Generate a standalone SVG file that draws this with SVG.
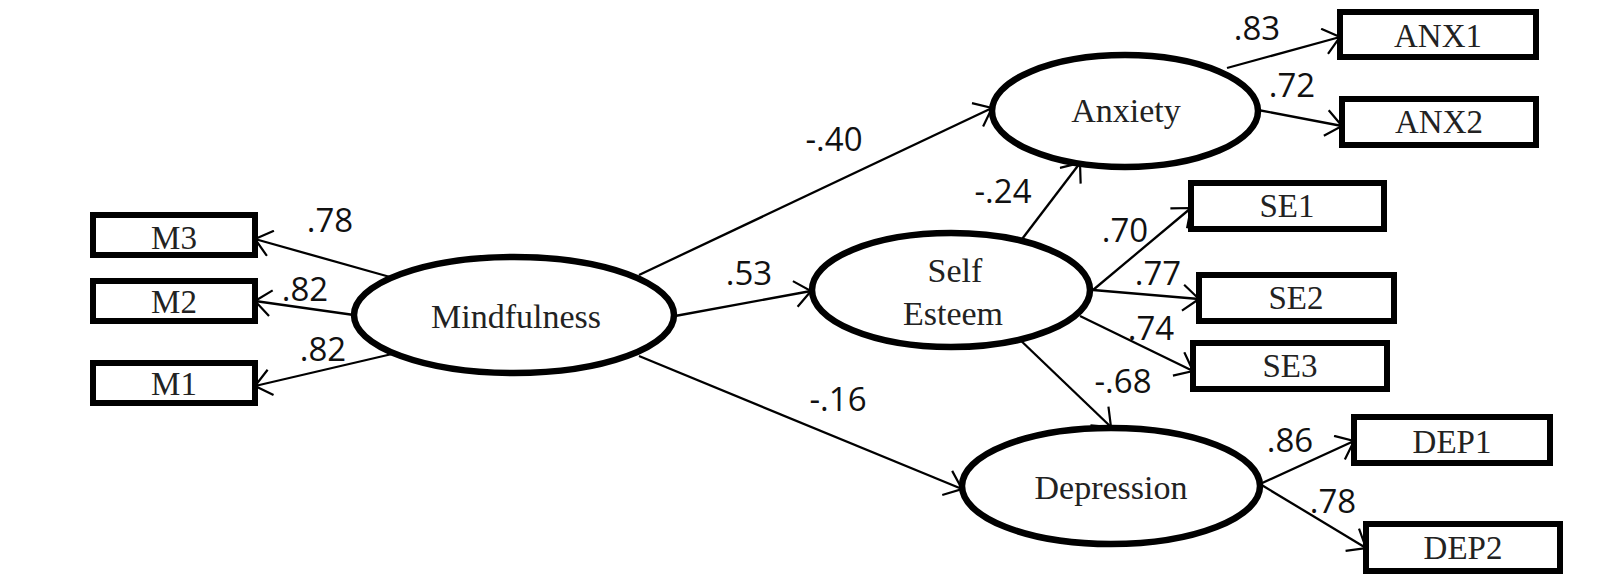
<svg xmlns="http://www.w3.org/2000/svg" width="1617" height="582" viewBox="0 0 1617 582">
<defs>
<marker id="arr" markerUnits="userSpaceOnUse" markerWidth="22" markerHeight="28" viewBox="0 0 22 28" refX="19" refY="14" orient="auto">
<path d="M3,1 L19,14 L3,27" fill="none" stroke="#000" stroke-width="2.2"/>
</marker>
<style>
.box{fill:#fff;stroke:#000;stroke-width:6}
.lat{fill:#fff;stroke:#000;stroke-width:6.5}
.nt{font-family:"Liberation Serif","Times New Roman",serif;font-size:33px;text-anchor:middle;fill:#222}
.el{font-size:34px}
.lt{font-family:"Open Sans","Liberation Sans",sans-serif;font-size:33px;text-anchor:middle;fill:#111}
.c{stroke:#000;stroke-width:2.3;fill:none;marker-end:url(#arr)}
</style>
</defs>
<rect width="1617" height="582" fill="#fff"/>
<g id="connectors">
<line class="c" x1="390" y1="277" x2="255" y2="239"/>
<line class="c" x1="354" y1="315" x2="255" y2="301"/>
<line class="c" x1="392" y1="354" x2="255" y2="386"/>
<line class="c" x1="639" y1="275" x2="992" y2="108"/>
<line class="c" x1="675" y1="316" x2="811" y2="291"/>
<line class="c" x1="639" y1="356" x2="962" y2="489"/>
<line class="c" x1="1016" y1="247" x2="1080" y2="163"/>
<line class="c" x1="1016" y1="336" x2="1111" y2="427"/>
<line class="c" x1="1093" y1="290" x2="1191" y2="208"/>
<line class="c" x1="1093" y1="290" x2="1199" y2="299"/>
<line class="c" x1="1080" y1="316" x2="1193" y2="371"/>
<line class="c" x1="1227" y1="68" x2="1340" y2="37"/>
<line class="c" x1="1258" y1="110" x2="1342" y2="126"/>
<line class="c" x1="1260" y1="484" x2="1354" y2="441"/>
<line class="c" x1="1260" y1="484" x2="1366" y2="548"/>
</g>
<g id="labels">
<text class="lt" x="330" y="232">.78</text>
<text class="lt" x="305" y="301">.82</text>
<text class="lt" x="323" y="361">.82</text>
<text class="lt" x="834" y="151">-.40</text>
<text class="lt" x="749" y="285">.53</text>
<text class="lt" x="838" y="411">-.16</text>
<text class="lt" x="1003" y="203">-.24</text>
<text class="lt" x="1125" y="242">.70</text>
<text class="lt" x="1158" y="285">.77</text>
<text class="lt" x="1151" y="340">.74</text>
<text class="lt" x="1123" y="393">-.68</text>
<text class="lt" x="1257" y="40">.83</text>
<text class="lt" x="1292" y="97">.72</text>
<text class="lt" x="1290" y="452">.86</text>
<text class="lt" x="1333" y="513">.78</text>
</g>
<g id="M3"><rect class="box" x="93" y="215" width="162" height="40"/><text class="nt" x="174" y="249">M3</text></g>
<g id="M2"><rect class="box" x="93" y="281" width="162" height="40"/><text class="nt" x="174" y="313">M2</text></g>
<g id="M1"><rect class="box" x="93" y="363" width="162" height="40"/><text class="nt" x="174" y="395">M1</text></g>
<g id="Mindfulness"><ellipse class="lat" cx="514" cy="315" rx="160" ry="58"/><text class="nt el" x="516" y="328">Mindfulness</text></g>
<g id="Anxiety"><ellipse class="lat" cx="1125" cy="111" rx="133" ry="56"/><text class="nt el" x="1126" y="122">Anxiety</text></g>
<g id="SelfEsteem"><ellipse class="lat" cx="951" cy="290" rx="139" ry="57"/><text class="nt el" x="955" y="282">Self</text><text class="nt el" x="953" y="325">Esteem</text></g>
<g id="Depression"><ellipse class="lat" cx="1111" cy="486" rx="149" ry="58"/><text class="nt el" x="1111" y="499">Depression</text></g>
<g id="ANX1"><rect class="box" x="1340" y="12" width="196" height="45"/><text class="nt" x="1438" y="47">ANX1</text></g>
<g id="ANX2"><rect class="box" x="1342" y="99" width="194" height="46"/><text class="nt" x="1439" y="133">ANX2</text></g>
<g id="SE1"><rect class="box" x="1191" y="183" width="193" height="46"/><text class="nt" x="1287" y="217">SE1</text></g>
<g id="SE2"><rect class="box" x="1199" y="275" width="195" height="46"/><text class="nt" x="1296" y="309">SE2</text></g>
<g id="SE3"><rect class="box" x="1193" y="343" width="194" height="46"/><text class="nt" x="1290" y="377">SE3</text></g>
<g id="DEP1"><rect class="box" x="1354" y="417" width="196" height="46"/><text class="nt" x="1452" y="453">DEP1</text></g>
<g id="DEP2"><rect class="box" x="1366" y="524" width="194" height="47"/><text class="nt" x="1463" y="559">DEP2</text></g>
</svg>
